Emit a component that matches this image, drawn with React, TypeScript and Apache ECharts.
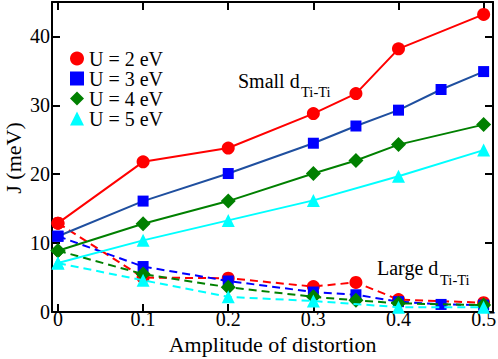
import React, { useEffect, useRef } from "react";
import * as echarts from "echarts";

const FONT = "'Liberation Serif', 'Times New Roman', serif";

const xTicks = [0, 0.1, 0.2, 0.3, 0.4, 0.5];
const yTicks = [0, 10, 20, 30, 40];

const xU2 = [0, 0.1, 0.2, 0.3, 0.35, 0.4, 0.5];
const smallU2 = [12.9, 21.8, 23.8, 28.8, 31.7, 38.2, 43.2];
const largeU2 = [12.9, 5.0, 4.9, 3.7, 4.3, 1.8, 1.35];

const xU3 = [0, 0.1, 0.2, 0.3, 0.35, 0.4, 0.45, 0.5];
const smallU3 = [11.0, 16.1, 20.1, 24.5, 27.0, 29.3, 32.3, 34.9];
const largeU3 = [11.0, 6.6, 4.5, 2.9, 2.5, 1.5, 1.1, 1.0];

const xU4 = [0, 0.1, 0.2, 0.3, 0.35, 0.4, 0.5];
const smallU4 = [8.9, 12.8, 16.1, 20.1, 22.0, 24.3, 27.2];
const largeU4 = [8.9, 5.5, 3.6, 2.2, 1.7, 1.26, 1.0];

const xU5 = [0, 0.1, 0.2, 0.3, 0.4, 0.5];
const smallU5 = [7.1, 10.4, 13.3, 16.2, 19.7, 23.5];
const largeU5 = [7.1, 4.6, 2.2, 1.6, 0.7, 0.7];

const names = ["U = 2 eV", "U = 3 eV", "U = 4 eV", "U = 5 eV"];

const zip = (xs: number[], ys: number[]) => xs.map((x, i) => [x, ys[i]]);

export default function App() {
  const ref = useRef<HTMLDivElement>(null);
  useEffect(() => {
    if (!ref.current) return;
    const chart = echarts.init(ref.current, undefined, { renderer: "svg" });
    const groups = [
      { name: names[0], xs: xU2, small: smallU2, large: largeU2, color: "#ff0000", line: "#ff0000", dash: "#ff0000", symbol: "circle", size: 13 },
      { name: names[1], xs: xU3, small: smallU3, large: largeU3, color: "#0000ff", line: "#1f4f9f", dash: "#0000ff", symbol: "rect", size: 11 },
      { name: names[2], xs: xU4, small: smallU4, large: largeU4, color: "#008000", line: "#008000", dash: "#008000", symbol: "diamond", size: 15 },
      { name: names[3], xs: xU5, small: smallU5, large: largeU5, color: "#00ffff", line: "#00ffff", dash: "#00ffff", symbol: "triangle", size: 13 },
    ];
    const series: any[] = [];
    groups.forEach((g, gi) => {
      series.push({
        name: g.name,
        type: "line",
        data: zip(g.xs, g.small),
        symbol: g.symbol,
        symbolSize: g.size,
        itemStyle: { color: g.color },
        lineStyle: { color: g.line, width: 2 },
        z: 2 + gi,
      });
      series.push({
        name: g.name + " large",
        type: "line",
        data: zip(g.xs, g.large),
        symbol: g.symbol,
        symbolSize: g.size,
        itemStyle: { color: g.color },
        lineStyle: { color: g.dash, width: 2, type: [8, 5] },
        z: 2 + gi,
      });
    });
    const axisLine = { show: true, onZero: false, lineStyle: { color: "#000", width: 2 } };
    const tickStyle = { color: "#000", width: 2 };
    const option: any = {
      animation: false,
      grid: { left: 52, right: 5, top: 2, bottom: 47, containLabel: false, outerBoundsMode: "none" },
      legend: {
        data: names.map((n, i) => ({ name: n, icon: groups[i].symbol })),
        orient: "vertical",
        left: 70,
        top: 48.5,
        padding: 0,
        itemWidth: 14,
        itemHeight: 14,
        itemGap: 0,
        textStyle: { fontFamily: FONT, fontSize: 20, color: "#000" },
        selectedMode: false,
      },
      xAxis: [
        {
          type: "value",
          min: -0.007,
          max: 0.511,
          axisLine,
          axisTick: { inside: true, length: 8, customValues: xTicks, lineStyle: tickStyle },
          axisLabel: {
            customValues: xTicks,
            formatter: (v: number) => (v === 0 ? "0" : String(v)),
            fontFamily: FONT,
            fontSize: 20,
            color: "#000",
            margin: -3,
          },
          splitLine: { show: false },
          name: "Amplitude of distortion",
          nameLocation: "middle",
          nameGap: 11,
          nameTextStyle: { fontFamily: FONT, fontSize: 22, color: "#000" },
        },
        {
          type: "value",
          position: "top",
          min: -0.007,
          max: 0.511,
          axisLine,
          axisTick: { inside: true, length: 8, customValues: xTicks, lineStyle: tickStyle },
          axisLabel: { show: false },
          splitLine: { show: false },
        },
      ],
      yAxis: [
        {
          type: "value",
          min: 0,
          max: 45,
          axisLine,
          axisTick: { inside: true, length: 8, customValues: yTicks, lineStyle: tickStyle },
          axisLabel: {
            customValues: yTicks,
            fontFamily: FONT,
            fontSize: 20,
            color: "#000",
            margin: 2,
          },
          splitLine: { show: false },
        },
        {
          type: "value",
          position: "right",
          min: 0,
          max: 45,
          axisLine,
          axisTick: { inside: true, length: 8, customValues: yTicks, lineStyle: tickStyle },
          axisLabel: { show: false },
          splitLine: { show: false },
        },
      ],
      graphic: [
        {
          type: "text",
          x: 13,
          y: 158,
          rotation: Math.PI / 2,
          style: { text: "J (meV)", font: `22px ${FONT}`, fill: "#000", align: "center", verticalAlign: "middle" },
        },
        { type: "text", left: 238, top: 71, style: { text: "Small d", font: `20px ${FONT}`, fill: "#000" } },
        { type: "text", left: 301, top: 84, style: { text: "Ti-Ti", font: `14.5px ${FONT}`, fill: "#000" } },
        { type: "text", left: 377, top: 258, style: { text: "Large d", font: `20px ${FONT}`, fill: "#000" } },
        { type: "text", left: 440, top: 272, style: { text: "Ti-Ti", font: `14.5px ${FONT}`, fill: "#000" } },
      ],
      series,
    };
    chart.setOption(option);
    return () => chart.dispose();
  }, []);
  return <div ref={ref} style={{ width: 498, height: 359, position: "absolute", left: 0, top: 0 }} />;
}
